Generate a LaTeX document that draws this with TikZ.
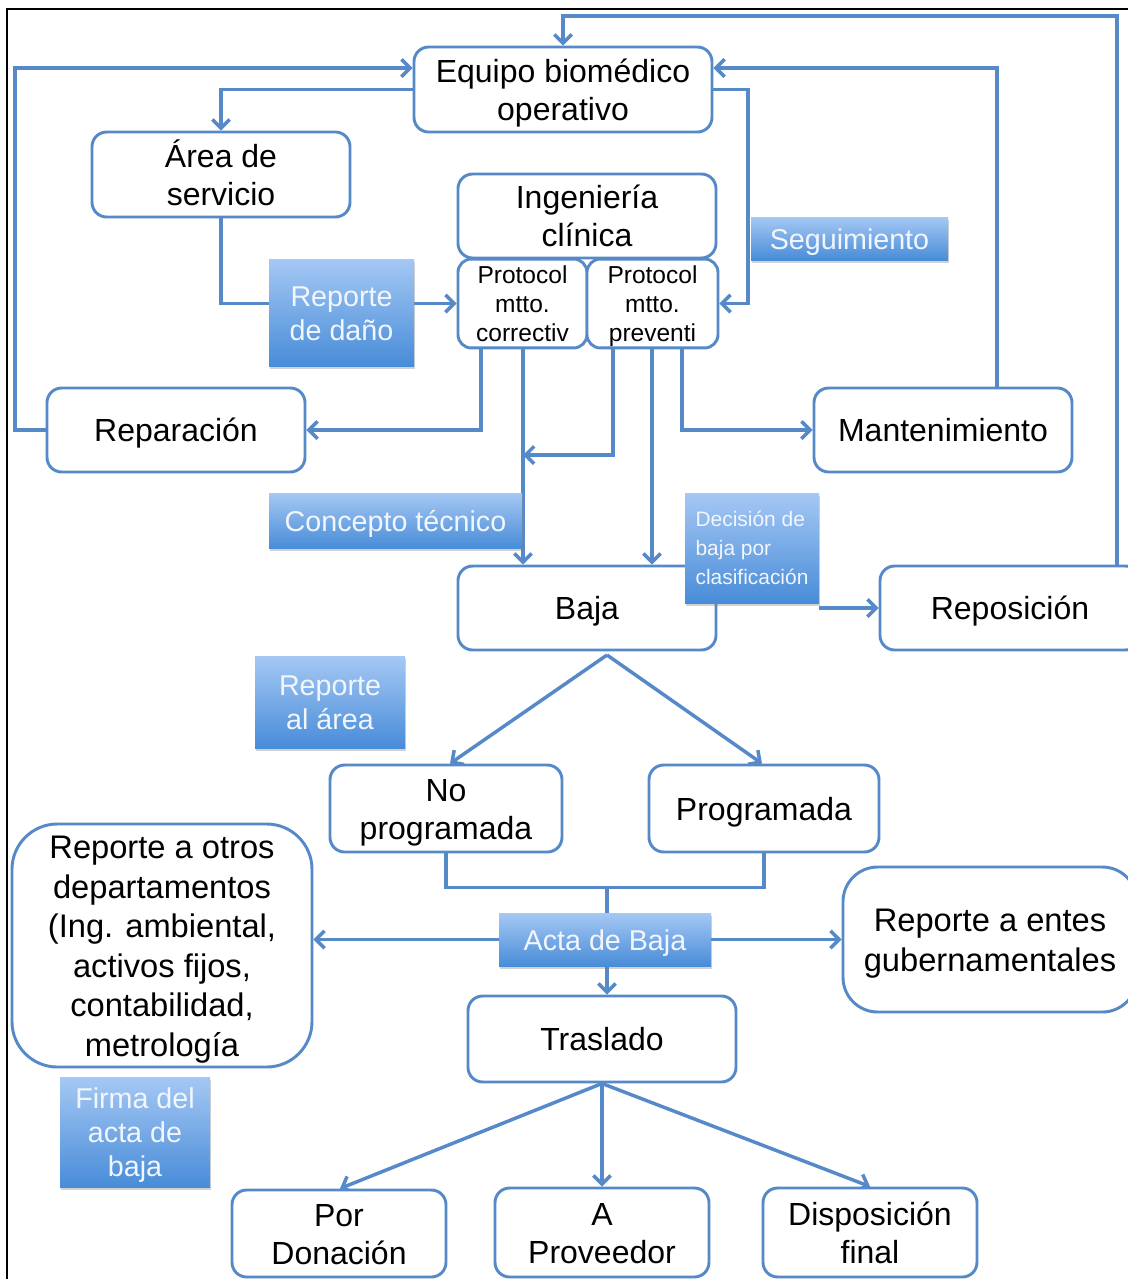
\documentclass[tikz,border=0pt]{standalone}
\usepackage{fontspec}
\setmainfont{Liberation Sans}
\usetikzlibrary{arrows.meta,shadows,backgrounds,calc}
\definecolor{flowblue}{RGB}{86,137,199}
\definecolor{tagtop}{RGB}{165,200,244}
\definecolor{tagbot}{RGB}{72,140,216}
\definecolor{tagtext}{RGB}{242,246,252}
% fixed first-line height and last-line depth, so that every block of lines sits centred
\newcommand\firstln{\rule{0pt}{1.0em}}
\newcommand\lastln{\rule[-0.26em]{0pt}{0pt}}
\begin{document}
\begin{tikzpicture}[x=0.75pt,y=-0.75pt,
  sz/.style 2 args={minimum width=#1*0.75pt, minimum height=#2*0.75pt},
  mbox/.style={draw=flowblue, line width=2.2pt, fill=white, rounded corners=11pt,
    inner sep=0pt, align=center, font=\fontsize{24}{28.5}\selectfont},
  pbox/.style={mbox, rounded corners=10pt, font=\fontsize{18.4}{21.75}\selectfont},
  tag/.style={draw=none, top color=tagtop, bottom color=tagbot, text=tagtext,
    inner sep=0pt, align=center, font=\fontsize{21.5}{25.5}\selectfont,
    drop shadow={shadow xshift=0.6pt, shadow yshift=-2pt, opacity=0.35}},
  flow/.style={draw=flowblue, line width=2.6pt, -{Straight Barb[length=6.5pt,width=13pt]}},
  link/.style={draw=flowblue, line width=2.6pt}]
\useasboundingbox (0,0) rectangle (1128,1279);
\clip (0,0) rectangle (1128,1279);
% outer frame
\draw[black, line width=1.5pt] (7,9) rectangle (1170,1320);

% process boxes
\node[mbox, sz={298}{85}] (equipo) at (563,89.5) {\firstln Equipo biomédico\\operativo\lastln};
\node[mbox, sz={258}{85}] (area) at (221,174.5) {\firstln Área de\\servicio\lastln};
\node[mbox, sz={258}{84}] (ing) at (587,216) {\firstln Ingeniería\\clínica\lastln};
\node[pbox, sz={129}{85}] (corr) at (522.5,303.5) {\firstln Protocol\\mtto.\\correctiv\lastln};
\node[pbox, sz={131}{85}] (prev) at (652.5,303.5) {\firstln Protocol\\mtto.\\preventi\lastln};
\node[mbox, sz={258}{84}] (rep) at (176,430) {\firstln Reparación\lastln};
\node[mbox, sz={258}{84}] (mant) at (943,430) {\firstln Mantenimiento\lastln};
\node[mbox, sz={258}{84}] (baja) at (587,608) {\firstln Baja\lastln};
\node[mbox, sz={260}{84}] (repo) at (1010,608) {\firstln Reposición\lastln};
\node[mbox, sz={232}{87}] (nop) at (446,808.5) {\firstln No\\programada\lastln};
\node[mbox, sz={230}{87}] (prog) at (764,808.5) {\firstln Programada\lastln};
\node[mbox, sz={300}{243}, rounded corners=34pt, font=\fontsize{24.5}{29.6}\selectfont]
  (otros) at (162,945.5)
  {\firstln Reporte a otros\\departamentos\\(Ing. ambiental,\\activos fijos,\\contabilidad,\\metrología\lastln};
\node[mbox, sz={294}{145}, rounded corners=26pt, font=\fontsize{24.5}{29.6}\selectfont]
  (entes) at (990,939.5) {\firstln Reporte a entes\\gubernamentales\lastln};
\node[mbox, sz={268}{86}] (tras) at (602,1039) {\firstln Traslado\lastln};
\node[mbox, sz={214}{87}] (don) at (339,1233.5) {\firstln Por\\Donación\lastln};
\node[mbox, sz={214}{89}] (prov) at (602,1232.5) {\firstln A\\Proveedor\lastln};
\node[mbox, sz={214}{89}] (disp) at (870,1232.5) {\firstln Disposición\\final\lastln};

% blue labels
\node[tag, sz={197}{43}] (seg) at (849.5,238.5) {\firstln Seguimiento\lastln};
\node[tag, sz={145}{107}] (rdano) at (341.5,312.5) {\firstln Reporte\\de daño\lastln};
\node[tag, sz={253}{55}] (concepto) at (395.5,520.5) {\firstln Concepto técnico\lastln};
\node[tag, sz={134}{110}, align=left, font=\fontsize{15.7}{21.75}\selectfont]
  (dec) at (752,548) {\firstln Decisión de\\baja por\\clasificación\lastln};
\node[tag, sz={150}{92}] (rarea) at (330,702) {\firstln Reporte\\al área\lastln};
\node[tag, sz={212}{53}] (acta) at (605,939.5) {\firstln Acta de Baja\lastln};
\node[tag, sz={150}{110}] (firma) at (135,1132) {\firstln Firma del\\acta de\\baja\lastln};

% turning points
\coordinate (topright) at (1117,16);
\coordinate (lefttop) at (15,68);
\coordinate (mantx) at (997,68);
\coordinate (segx) at (748,303);
\coordinate (c1) at (481,346);
\coordinate (cx) at (523,346);
\coordinate (p1) at (613,346);
\coordinate (mid) at (523,455);
\coordinate (p2) at (652,346);
\coordinate (p3) at (682,346);
\coordinate (bapex) at (607,655);
\coordinate (ax) at (607,886);

\begin{scope}[on background layer]
  \clip (0,0) rectangle (1128,1279);
  \fill[white] (0,0) rectangle (1128,1279);
  % feedback loops to the operating equipment
  \draw[flow] (repo.north -| topright) -- (topright) -- (topright -| equipo.north) -- (equipo.north);
  \draw[flow] (rep.west) -- (rep.west -| lefttop) -- (lefttop) -- (lefttop -| equipo.west);
  \draw[flow] (mant.north -| mantx) -- (mantx) -- (mantx -| equipo.east);
  \draw[flow] (equipo.west) -| (area.north);
  \draw[flow] (equipo.east) -| (prev.east -| segx) -- (prev.east);
  % damage report and maintenance protocols
  \draw[flow] (area.south) |- (corr.west);
  \draw[flow] (c1) |- (rep.east);
  \draw[flow] (cx) -- (cx |- baja.north);
  \draw[flow] (p1) |- (mid);
  \draw[flow] (p2) -- (p2 |- baja.north);
  \draw[flow] (p3) |- (mant.west);
  % decommissioning
  \draw[flow] (dec.east |- repo.west) -- (repo.west);
  \draw[flow] (bapex) -- ($(nop.north)+(4,0)$);
  \draw[flow] (bapex) -- ($(prog.north)+(-2,0)$);
  \draw[link] (nop.south) -- ++(0,34) -| (prog.south);
  \draw[flow] (ax) -- (ax |- tras.north);
  \draw[flow] (acta.west) -- (acta.west -| otros.east);
  \draw[flow] (acta.east) -- (acta.east -| entes.west);
  % transfer options
  \draw[flow] (tras.south) -- ($(don.north)+(1,0)$);
  \draw[flow] (tras.south) -- (prov.north);
  \draw[flow] (tras.south) -- (disp.north);
\end{scope}
\end{tikzpicture}
\end{document}
